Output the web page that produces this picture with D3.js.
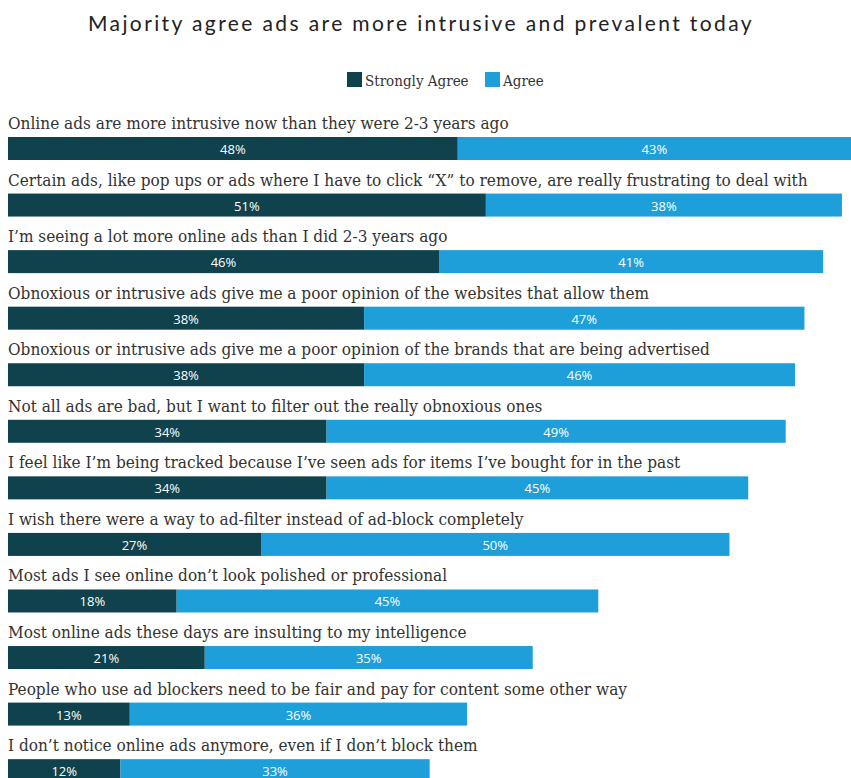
<!DOCTYPE html>
<html>
<head>
<meta charset="utf-8">
<script src="https://cdn.jsdelivr.net/npm/d3@7/dist/d3.min.js"></script>
<style>
  html, body { margin: 0; padding: 0; background: #ffffff; }
  svg { display: block; }
</style>
</head>
<body>
<svg id="chart" width="851" height="778"></svg>
<script>
// Survey statements, one row each
const statements = [
  "Online ads are more intrusive now than they were 2-3 years ago",
  "Certain ads, like pop ups or ads where I have to click \u201cX\u201d to remove, are really frustrating to deal with",
  "I\u2019m seeing a lot more online ads than I did 2-3 years ago",
  "Obnoxious or intrusive ads give me a poor opinion of the websites that allow them",
  "Obnoxious or intrusive ads give me a poor opinion of the brands that are being advertised",
  "Not all ads are bad, but I want to filter out the really obnoxious ones",
  "I feel like I\u2019m being tracked because I\u2019ve seen ads for items I\u2019ve bought for in the past",
  "I wish there were a way to ad-filter instead of ad-block completely",
  "Most ads I see online don\u2019t look polished or professional",
  "Most online ads these days are insulting to my intelligence",
  "People who use ad blockers need to be fair and pay for content some other way",
  "I don\u2019t notice online ads anymore, even if I don\u2019t block them"
];

// Share of respondents (%) per statement
const stronglyAgree = [48, 51, 46, 38, 38, 34, 34, 27, 18, 21, 13, 12];
const agree         = [43, 38, 41, 47, 46, 49, 45, 50, 45, 35, 36, 33];

const seriesNames = ["Strongly Agree", "Agree"];
const seriesColors = ["#0f424d", "#1e9fd9"];

const title = "Majority agree ads are more intrusive and prevalent today";

const W = 851, H = 778;
const svg = d3.select("#chart");

const rows = statements.map((s, i) => ({
  label: s,
  "Strongly Agree": stronglyAgree[i],
  "Agree": agree[i]
}));

const stack = d3.stack().keys(seriesNames);
const layers = stack(rows);

const x = d3.scaleLinear().domain([0, 100]).range([8, 945]);
const y = d3.scaleBand().domain(statements).range([108, 108 + 56.56 * statements.length]);
const color = d3.scaleOrdinal().domain(seriesNames).range(seriesColors);

const barOffset = 29, barH = 23;

// Title
const titleText = svg.append("text")
  .attr("x", 421)
  .attr("y", 31)
  .attr("text-anchor", "middle")
  .attr("font-family", "Lato, 'Open Sans', sans-serif")
  .attr("font-size", 21)
  .attr("fill", "#222")
  .text(title);
{
  const w = titleText.node().getComputedTextLength();
  const ls = (666 - w) / title.length;
  titleText.attr("letter-spacing", ls.toFixed(2));
}

// Legend
const serifFont = "'DejaVu Serif Condensed', 'DejaVu Serif', serif";
const legend = svg.append("g");
const legendItems = [
  { name: seriesNames[0], x: 347 },
  { name: seriesNames[1], x: 485 }
];
legendItems.forEach(d => {
  legend.append("rect")
    .attr("x", d.x).attr("y", 72)
    .attr("width", 15).attr("height", 15)
    .attr("fill", color(d.name));
  legend.append("text")
    .attr("x", d.x + 18).attr("y", 86)
    .attr("font-family", serifFont)
    .attr("font-stretch", "condensed")
    .attr("font-size", 15)
    .attr("fill", "#333")
    .text(d.name);
});

// Statement labels above each bar
const labels = svg.append("g").selectAll("text")
  .data(statements)
  .join("text")
  .attr("x", 8)
  .attr("y", d => y(d) + 21)
  .attr("font-family", serifFont)
  .attr("font-stretch", "condensed")
  .attr("font-size", 16)
  .attr("fill", "#333")
  .text(d => d);

// Fit the label size so the longest statement spans its row width
{
  const longest = labels.nodes()[1].getComputedTextLength();
  const fs = 16 * 800 / longest;
  labels.attr("font-size", fs.toFixed(2));
}

// Stacked bars with centred value labels
const g = svg.append("g");
layers.forEach(layer => {
  const key = layer.key;
  const grp = g.append("g").attr("fill", color(key));
  grp.selectAll("rect")
    .data(layer)
    .join("rect")
    .attr("x", d => x(d[0]))
    .attr("y", d => y(d.data.label) + barOffset)
    .attr("width", d => x(d[1]) - x(d[0]))
    .attr("height", barH);

  g.append("g").selectAll("text")
    .data(layer)
    .join("text")
    .attr("x", d => (x(d[0]) + Math.min(x(d[1]), W)) / 2)
    .attr("y", d => y(d.data.label) + barOffset + 17)
    .attr("text-anchor", "middle")
    .attr("font-family", "'Open Sans', Lato, sans-serif")
    .attr("font-size", 13)
    .attr("fill", "#ffffff")
    .text(d => (d[1] - d[0]) + "%");
});
</script>
</body>
</html>
